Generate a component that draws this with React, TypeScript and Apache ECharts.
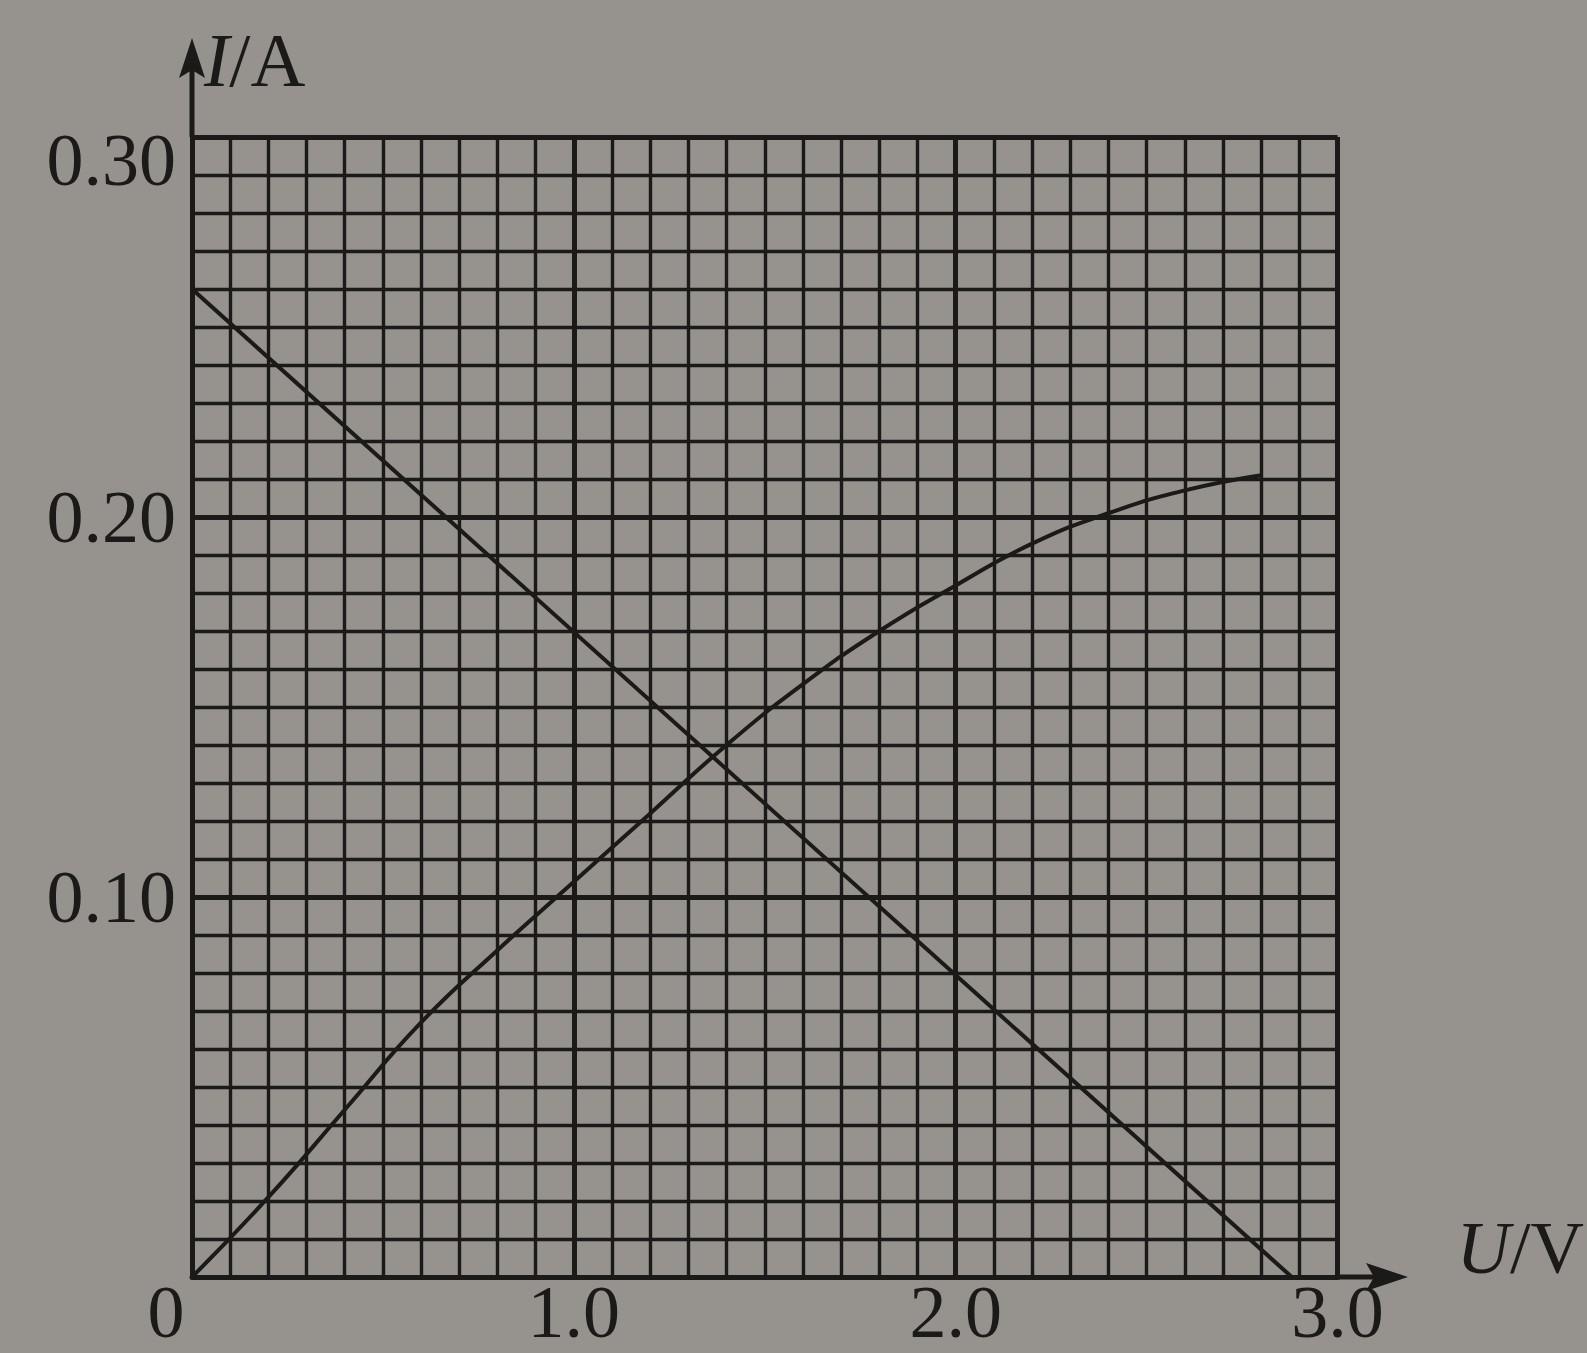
import { useEffect, useRef } from 'react';
import * as echarts from 'echarts';

// U–I characteristic of a lamp (curve) and a source's load line
const lampU = [0, 0.2, 0.4, 0.6, 0.8, 1.0, 1.2, 1.4, 1.6, 1.8, 2.0, 2.2, 2.4, 2.6, 2.8];
const lampI = [0, 0.021, 0.044, 0.067, 0.086, 0.104, 0.122, 0.14, 0.156, 0.17, 0.182, 0.193, 0.201, 0.207, 0.211];

const sourceU = [0, 2.88];
const sourceI = [0.26, 0];

// axis ranges and tick steps
const uRange = [0, 3.0];
const iRange = [0, 0.3];
const uStep = 1.0;
const iStep = 0.1;
const minorDivisions = 10;

const INK = '#1b1a19';
const PAPER = '#96938f';
const SERIF = '"Liberation Serif", "Times New Roman", "DejaVu Serif", serif';
const FS = 74;

export default function App() {
  const ref = useRef<HTMLDivElement>(null);

  useEffect(() => {
    const chart = echarts.init(ref.current!, null, { renderer: 'svg' });

    const lampData = lampU.map((u, k) => [u, lampI[k]]);
    const sourceData = sourceU.map((u, k) => [u, sourceI[k]]);

    const textBase = { fontFamily: SERIF, fontSize: FS, color: INK };

    chart.setOption({
      animation: false,
      backgroundColor: PAPER,
      grid: { left: 192, right: 249, top: 137, bottom: 76 },
      xAxis: {
        type: 'value',
        min: uRange[0],
        max: uRange[1],
        interval: uStep,
        axisLine: { show: true, lineStyle: { color: INK, width: 5 } },
        axisTick: { show: false },
        minorTick: { show: false, splitNumber: minorDivisions },
        splitLine: { show: true, lineStyle: { color: INK, width: 5 } },
        minorSplitLine: { show: true, lineStyle: { color: INK, width: 3.4 } },
        axisLabel: {
          show: true,
          margin: -2,
          showMinLabel: true,
          showMaxLabel: true,
          ...textBase,
          lineHeight: FS,
          formatter: (v: number) => (v === 0 ? '{o|0}' : v.toFixed(1)),
          rich: { o: { ...textBase, lineHeight: FS, padding: [0, 52, 0, 0] } },
        },
        name: '{i|U}{n|/V}',
        nameLocation: 'end',
        nameGap: 119,
        nameTextStyle: {
          ...textBase,
          align: 'left',
          verticalAlign: 'middle',
          padding: [0, 0, 58, 0],
          rich: {
            i: { ...textBase, fontStyle: 'italic' },
            n: { ...textBase },
          },
        },
      },
      yAxis: {
        type: 'value',
        min: iRange[0],
        max: iRange[1],
        interval: iStep,
        axisLine: { show: true, lineStyle: { color: INK, width: 5 } },
        axisTick: { show: false },
        minorTick: { show: false, splitNumber: minorDivisions },
        splitLine: { show: true, lineStyle: { color: INK, width: 5 } },
        minorSplitLine: { show: true, lineStyle: { color: INK, width: 3.4 } },
        axisLabel: {
          show: true,
          margin: 16,
          showMaxLabel: true,
          ...textBase,
          formatter: (v: number) => {
            if (v === 0) return '';
            if (Math.abs(v - iRange[1]) < 1e-9) return '{t|' + v.toFixed(2) + '}';
            return v.toFixed(2);
          },
          rich: { t: { ...textBase, padding: [46, 0, 0, 0] } },
        },
        name: '{i|I}{n|/A}',
        nameLocation: 'end',
        nameGap: 77,
        nameTextStyle: {
          ...textBase,
          fontSize: 76,
          align: 'left',
          verticalAlign: 'middle',
          padding: [0, 0, 0, 12],
          rich: {
            i: { ...textBase, fontSize: 76, fontStyle: 'italic' },
            n: { ...textBase, fontSize: 76 },
          },
        },
      },
      series: [
        {
          type: 'line',
          data: lampData,
          smooth: 0.5,
          showSymbol: false,
          lineStyle: { color: INK, width: 4 },
          z: 5,
        },
        {
          type: 'line',
          data: sourceData,
          showSymbol: false,
          lineStyle: { color: INK, width: 4 },
          z: 5,
        },
      ],
    });

    // extend both axes past the grid and cap them with arrowheads
    const [ox, oy] = chart.convertToPixel({ gridIndex: 0 }, [uRange[0], iRange[0]]) as number[];
    const [ex, ey] = chart.convertToPixel({ gridIndex: 0 }, [uRange[1], iRange[1]]) as number[];
    const yTip = 38;
    const xTip = 1408;
    chart.setOption({
      graphic: [
        { type: 'line', shape: { x1: ox, y1: ey, x2: ox, y2: yTip + 30 }, style: { stroke: INK, lineWidth: 5 } },
        {
          type: 'polygon',
          shape: { points: [[ox, yTip], [ox - 13, yTip + 40], [ox, yTip + 32], [ox + 13, yTip + 40]] },
          style: { fill: INK },
        },
        { type: 'line', shape: { x1: ex, y1: oy, x2: xTip - 30, y2: oy }, style: { stroke: INK, lineWidth: 5 } },
        {
          type: 'polygon',
          shape: { points: [[xTip, oy], [xTip - 42, oy - 14], [xTip - 34, oy], [xTip - 42, oy + 14]] },
          style: { fill: INK },
        },
      ],
    });

    return () => chart.dispose();
  }, []);

  return (
    <div
      ref={ref}
      style={{ position: 'fixed', left: 0, top: 0, width: 1587, height: 1353, background: PAPER }}
    />
  );
}
